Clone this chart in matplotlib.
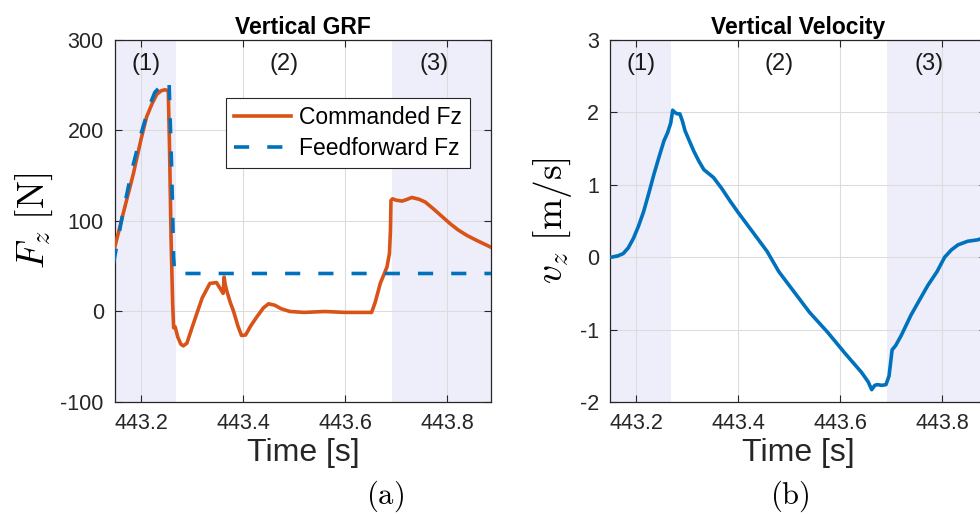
import matplotlib.pyplot as plt
import numpy as np

plt.rcParams['font.family'] = ['Liberation Sans', 'DejaVu Sans']
plt.rcParams['mathtext.fontset'] = 'cm'

# phase limits [s]
t_min, t_max = 443.149, 443.886
fase1 = (443.149, 443.269)
fase3 = (443.692, 443.886)
fase_txt = ['(1)', '(2)', '(3)']
fase_t = [443.21, 443.48, 443.775]

# Fz comandada [N]
t_cmd = [443.146, 443.165, 443.185, 443.200, 443.211, 443.222, 443.231, 443.240, 443.247, 443.2535,
         443.256, 443.259, 443.262, 443.264, 443.267, 443.272, 443.278, 443.283, 443.290, 443.300,
         443.309, 443.320, 443.335, 443.348, 443.361, 443.363, 443.365, 443.368, 443.375, 443.381,
         443.390, 443.397, 443.405, 443.415, 443.427, 443.440, 443.450, 443.462, 443.475, 443.492,
         443.520, 443.560, 443.600, 443.630, 443.652, 443.659, 443.669, 443.682, 443.687, 443.689,
         443.690, 443.693, 443.700, 443.712, 443.722, 443.731, 443.745, 443.757, 443.773, 443.790,
         443.806, 443.822, 443.839, 443.860, 443.886]
fz_cmd = [65, 108, 152, 190, 215, 230, 240, 244, 245, 244,
          180, 80, 10, -18, -17, -28, -36, -38, -35, -18,
          -3, 15, 31, 32, 20, 38, 30, 23, 10, 1,
          -16, -26.5, -26, -16, -6, 4, 8.5, 7, 3, 0,
          -1, 0, -1, -1, -1, 10, 31, 49, 64, 90,
          122.6, 124.5, 123, 122, 124, 126, 124, 121, 113.5, 105,
          97, 90, 84, 78, 71]

# Fz feedforward [N]
t_ff = [443.146, 443.165, 443.182, 443.200, 443.215, 443.227, 443.240, 443.250, 443.255, 443.260,
        443.264, 443.266, 443.886]
fz_ff = [53, 110, 156, 196, 225, 242, 250, 254, 255, 160,
         60, 42, 42]

# velocidade vertical [m/s]
t_vel = [443.149, 443.152, 443.165, 443.175, 443.185, 443.195, 443.205, 443.215, 443.225, 443.235,
         443.245, 443.255, 443.262, 443.268, 443.272, 443.276, 443.281, 443.286, 443.291, 443.296,
         443.305, 443.313, 443.323, 443.333, 443.352, 443.368, 443.385, 443.400, 443.418, 443.437,
         443.457, 443.480, 443.510, 443.540, 443.576, 443.610, 443.642, 443.655, 443.662, 443.668,
         443.673, 443.682, 443.690, 443.696, 443.702, 443.709, 443.720, 443.739, 443.755, 443.772,
         443.790, 443.805, 443.818, 443.831, 443.850, 443.870, 443.886]
v_z = [0.0, 0.0, 0.02, 0.05, 0.13, 0.26, 0.43, 0.63, 0.88, 1.14,
       1.38, 1.61, 1.72, 1.85, 2.03, 2.0, 1.98, 1.98, 1.88, 1.75,
       1.6, 1.47, 1.33, 1.21, 1.1, 0.95, 0.77, 0.62, 0.45, 0.27,
       0.08, -0.2, -0.48, -0.76, -1.04, -1.33, -1.59, -1.72, -1.83, -1.77,
       -1.76, -1.77, -1.76, -1.64, -1.28, -1.22, -1.08, -0.80, -0.6, -0.39,
       -0.2, 0.0, 0.1, 0.17, 0.22, 0.24, 0.28]

laranja = '#D95319'
azul = '#0072BD'
sombra = '#EEEEFB'

fig = plt.figure(figsize=(9.8, 5.14), dpi=100)
ax1 = fig.add_axes([0.1173, 0.2179, 0.3837, 0.7043])
ax2 = fig.add_axes([0.6224, 0.2179, 0.3837, 0.7043])


def estilo(ax, ylim, yticks):
    ax.axvspan(*fase1, color=sombra, lw=0, zorder=0)
    ax.axvspan(*fase3, color=sombra, lw=0, zorder=0)
    ax.set_xlim(t_min, t_max)
    ax.set_ylim(*ylim)
    ax.set_xticks([443.2, 443.4, 443.6, 443.8])
    ax.set_xticklabels(['443.2', '443.4', '443.6', '443.8'])
    ax.set_yticks(yticks)
    ax.set_yticklabels([str(v) for v in yticks])
    ax.grid(True, color='#DCDCDC', lw=0.8, zorder=0.5)
    ax.set_axisbelow(True)
    ax.tick_params(direction='in', top=True, right=True, length=5, width=0.8,
                   labelsize=15.5, colors='#262626', pad=8)
    for s in ax.spines.values():
        s.set_color('#262626')
        s.set_linewidth(0.9)
    ax.set_xlabel('Time [s]', fontsize=23, color='#262626', labelpad=3)
    for txt, tt in zip(fase_txt, fase_t):
        ax.text(tt, 0.935, txt, transform=ax.get_xaxis_transform(), ha='center', va='center',
                fontsize=17, color='#1a1a1a')


estilo(ax1, (-100, 300), [-100, 0, 100, 200, 300])
ax1.plot(t_cmd, fz_cmd, color=laranja, lw=2.6, label='Commanded Fz', zorder=3)
ax1.plot(t_ff, fz_ff, color=azul, lw=2.6, dashes=(4.2, 5.0), label='Feedforward Fz', zorder=4)
ax1.set_title('Vertical GRF', fontsize=16.5, fontweight='bold', pad=4)
ax1.set_ylabel(r'$F_z\ [\mathrm{N}]$', fontsize=27, labelpad=4)
leg = ax1.legend(loc='upper right', bbox_to_anchor=(0.945, 0.84), fontsize=16.5,
                 frameon=True, fancybox=False, framealpha=1, edgecolor='#262626',
                 handlelength=2.5, borderpad=0.35, labelspacing=0.35, handletextpad=0.35,
                 borderaxespad=0)
leg.get_frame().set_linewidth(0.8)

estilo(ax2, (-2, 3), [-2, -1, 0, 1, 2, 3])
ax2.plot(t_vel, v_z, color=azul, lw=2.6, zorder=3)
ax2.set_title('Vertical Velocity', fontsize=16.5, fontweight='bold', pad=4)
ax2.set_ylabel(r'$v_z\ [\mathrm{m/s}]$', fontsize=27, labelpad=4)

fig.text(0.393, 0.035, r'$\mathrm{(a)}$', fontsize=22, ha='center', va='center')
fig.text(0.806, 0.035, r'$\mathrm{(b)}$', fontsize=22, ha='center', va='center')

fig.savefig('out.png', dpi=100)
